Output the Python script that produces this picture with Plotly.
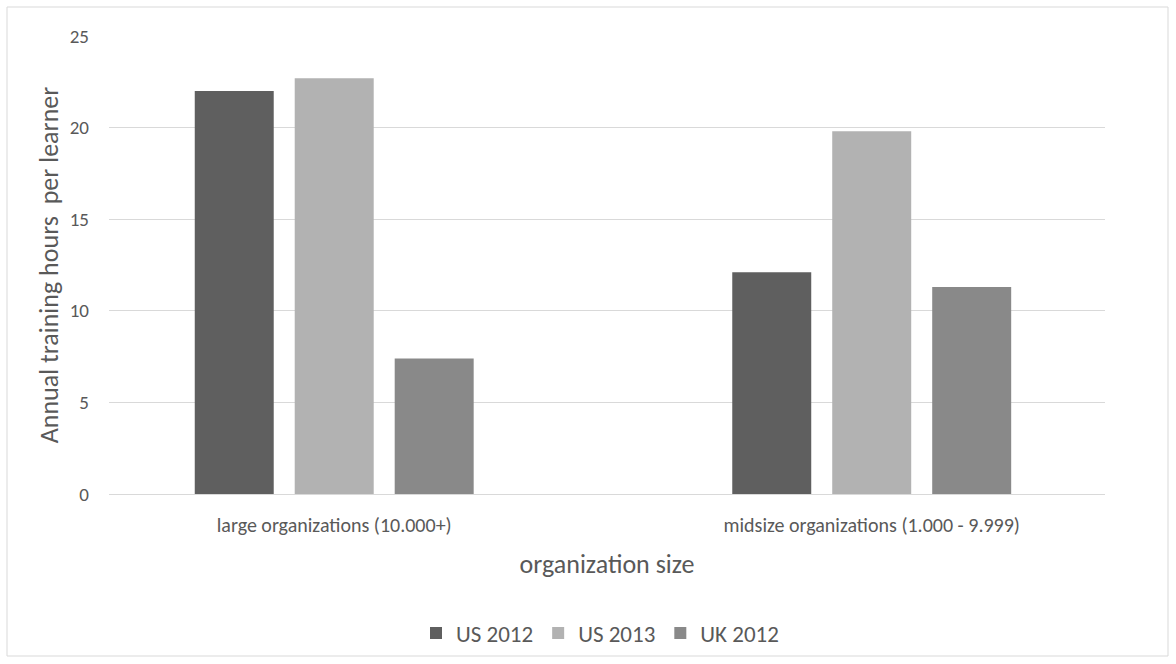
import plotly.graph_objects as go

# Annual training hours per learner by organization size
categories = ["large organizations (10.000+)", "midsize organizations (1.000 - 9.999)"]
series_names = ["US 2012", "US 2013", "UK 2012"]
us_2012 = [22.0, 12.1]
us_2013 = [22.7, 19.8]
uk_2012 = [7.4, 11.3]
y_ticks = [0, 5, 10, 15, 20, 25]

colors = ["#5f5f5f", "#b2b2b2", "#898989"]
values = [us_2012, us_2013, uk_2012]

FONT = "Carlito, Lato, 'Open Sans', sans-serif"
TEXT = "#595959"

fig = go.Figure()
for name, vals, col in zip(series_names, values, colors):
    fig.add_trace(go.Bar(
        x=list(range(len(categories))), y=vals, name=name,
        marker=dict(color=col, line=dict(width=0)),
    ))

W, H = 1176, 664
ml, mr, mt, mb = 109, 71, 36, 170
pw, ph = W - ml - mr, H - mt - mb

def px_x(x):
    return (x - ml) / pw

def px_y(y):
    return (H - mb - y) / ph

fig.update_layout(
    width=W, height=H,
    margin=dict(l=ml, r=mr, t=mt, b=mb, pad=0, autoexpand=False),
    paper_bgcolor="white", plot_bgcolor="white",
    font=dict(family=FONT, color=TEXT, size=19),
    barmode="group", bargap=0.442, bargroupgap=0.21,
    showlegend=True,
    legend=dict(orientation="h", x=px_x(600), xanchor="center",
                y=px_y(633), yanchor="middle",
                font=dict(size=23, color=TEXT), itemwidth=30,
                traceorder="normal"),
    xaxis=dict(
        tickmode="array", tickvals=list(range(len(categories))), ticktext=categories,
        tickfont=dict(size=20, color=TEXT),
        range=[-0.419, 1.434], showgrid=False, zeroline=False,
        showline=False, ticks="", ticklabelstandoff=17,
        title=dict(text="organization size", font=dict(size=26, color=TEXT), standoff=18),
    ),
    yaxis=dict(
        range=[0, 25], tickvals=y_ticks, tickfont=dict(size=19, color=TEXT),
        showgrid=True, gridcolor="#d9d9d9", gridwidth=1,
        zeroline=True, zerolinecolor="#d9d9d9", zerolinewidth=1,
        showline=False, ticks="", ticklabelstandoff=19,
        title=dict(text="Annual training hours  per learner", font=dict(size=26, color=TEXT), standoff=3),
    ),
    shapes=[dict(
        type="rect", xref="paper", yref="paper",
        x0=px_x(7), x1=px_x(1168), y0=px_y(656), y1=px_y(7),
        line=dict(color="#d9d9d9", width=1), fillcolor="rgba(0,0,0,0)", layer="below",
    )],
)

fig.write_html("out.html")
